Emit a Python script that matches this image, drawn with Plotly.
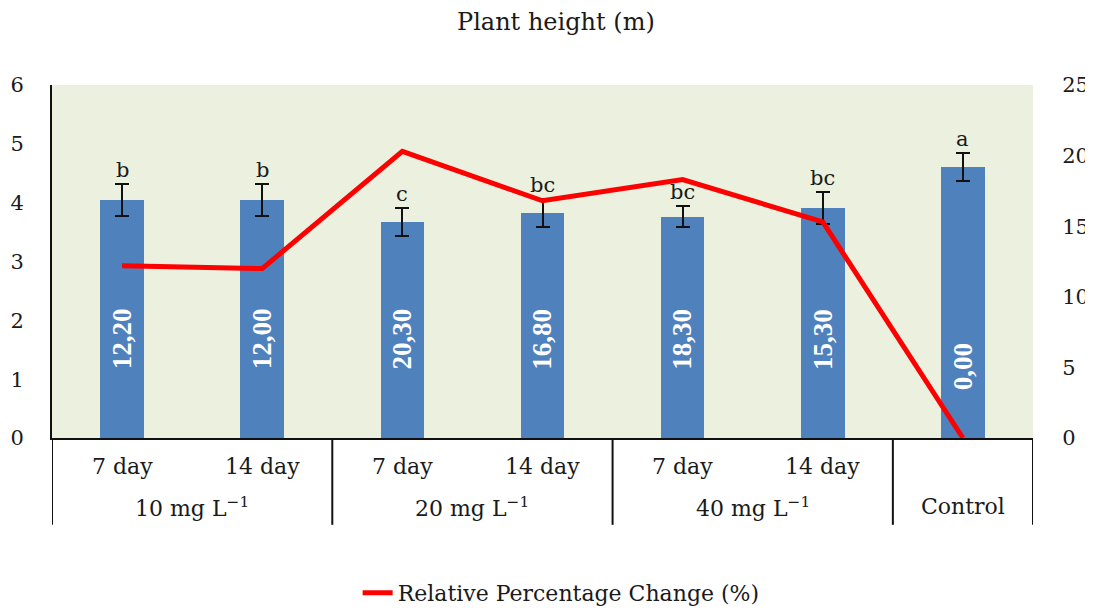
import plotly.graph_objects as go

# ---- data ----
concentrations = ["10 mg L<sup>−1</sup>", "20 mg L<sup>−1</sup>", "40 mg L<sup>−1</sup>", "Control"]
group_sizes = [2, 2, 2, 1]
days = ["7 day", "14 day", "7 day", "14 day", "7 day", "14 day", ""]
plant_height = [4.05, 4.05, 3.67, 3.83, 3.76, 3.91, 4.61]
height_err = [0.27, 0.27, 0.24, 0.24, 0.18, 0.27, 0.24]
letters = ["b", "b", "c", "bc", "bc", "bc", "a"]
rel_change = [12.20, 12.00, 20.30, 16.80, 18.30, 15.30, 0.00]
left_ticks = [0, 1, 2, 3, 4, 5, 6]
right_ticks = [0, 5, 10, 15, 20, 25]

FONT = "DejaVu Serif"
TXT = "#1a1a1a"
xpos = list(range(len(days)))

fig = go.Figure()
fig.add_trace(go.Bar(
    x=xpos, y=plant_height, width=0.31,
    marker=dict(color="#4f81bd", line=dict(width=0)),
    error_y=dict(type="data", array=height_err, visible=True,
                 color="#111111", thickness=2, width=7),
    showlegend=False, hoverinfo="y",
))
fig.add_trace(go.Scatter(
    x=xpos, y=rel_change, yaxis="y2", mode="lines",
    line=dict(color="#ff0000", width=5),
    name="Relative Percentage Change (%)",
))

ann = []
# significance letters
for i, (h, e, l) in enumerate(zip(plant_height, height_err, letters)):
    ann.append(dict(x=i, y=h + e, xref="x", yref="y", text=l, showarrow=False,
                    yanchor="bottom", yshift=0,
                    font=dict(family=FONT, size=21, color=TXT)))
# value labels inside bars
for i, v in enumerate(rel_change):
    ann.append(dict(x=i, y=1.22 if v == 0 else 1.68, xref="x", yref="y",
                    text="<b>" + f"{v:.2f}".replace(".", ",") + "</b>",
                    showarrow=False, textangle=-90,
                    font=dict(family="Liberation Serif", size=27, color="white")))
# inner category labels
for i, d in enumerate(days):
    if d:
        ann.append(dict(x=i, y=-0.082, xref="x", yref="paper", text=d, showarrow=False,
                        yanchor="middle", font=dict(family=FONT, size=22, color=TXT)))
# outer category labels and dividers
shapes = []
start = 0
bounds = [-0.5]
for c, n in zip(concentrations, group_sizes):
    center = start + (n - 1) / 2
    ann.append(dict(x=center, y=-0.195, xref="x", yref="paper", text=c, showarrow=False,
                    yanchor="middle", font=dict(family=FONT, size=22, color=TXT)))
    start += n
    bounds.append(start - 0.5)
for b in bounds:
    shapes.append(dict(type="line", xref="x", yref="paper", x0=b, x1=b, y0=0, y1=-0.246,
                       line=dict(color="#111111", width=2)))

# page body has an 8px default margin; size the figure so it fills the window
fig.update_layout(
    width=1085, height=603,
    margin=dict(l=44, r=60, t=77, b=173, autoexpand=False),
    paper_bgcolor="white", plot_bgcolor="#ebf1de",
    title=dict(text="Plant height (m)", x=0.505, xanchor="center", y=0.977, yanchor="middle",
               font=dict(family=FONT, size=24, color=TXT)),
    xaxis=dict(range=[-0.5, 6.5], showticklabels=False, showgrid=False, zeroline=False,
               showline=True, linecolor="#111111", linewidth=2, ticks="", automargin=False),
    yaxis=dict(range=[0, 6], tickvals=left_ticks, showgrid=False, zeroline=False,
               showline=True, linecolor="#111111", linewidth=2,
               ticks="outside", ticklen=22, tickcolor="rgba(0,0,0,0)", automargin=False,
               tickfont=dict(family=FONT, size=21, color=TXT)),
    yaxis2=dict(range=[0, 25], tickvals=right_ticks, overlaying="y", side="right",
                showgrid=False, zeroline=False, showline=False,
                ticks="outside", ticklen=24, tickcolor="rgba(0,0,0,0)", automargin=False,
                tickfont=dict(family=FONT, size=21, color=TXT)),
    legend=dict(orientation="h", x=0.519, xanchor="center", y=-0.439, yanchor="middle",
                font=dict(family=FONT, size=22, color=TXT), bgcolor="rgba(0,0,0,0)"),
    annotations=ann, shapes=shapes,
    bargap=0,
)

fig.write_html("out.html")
